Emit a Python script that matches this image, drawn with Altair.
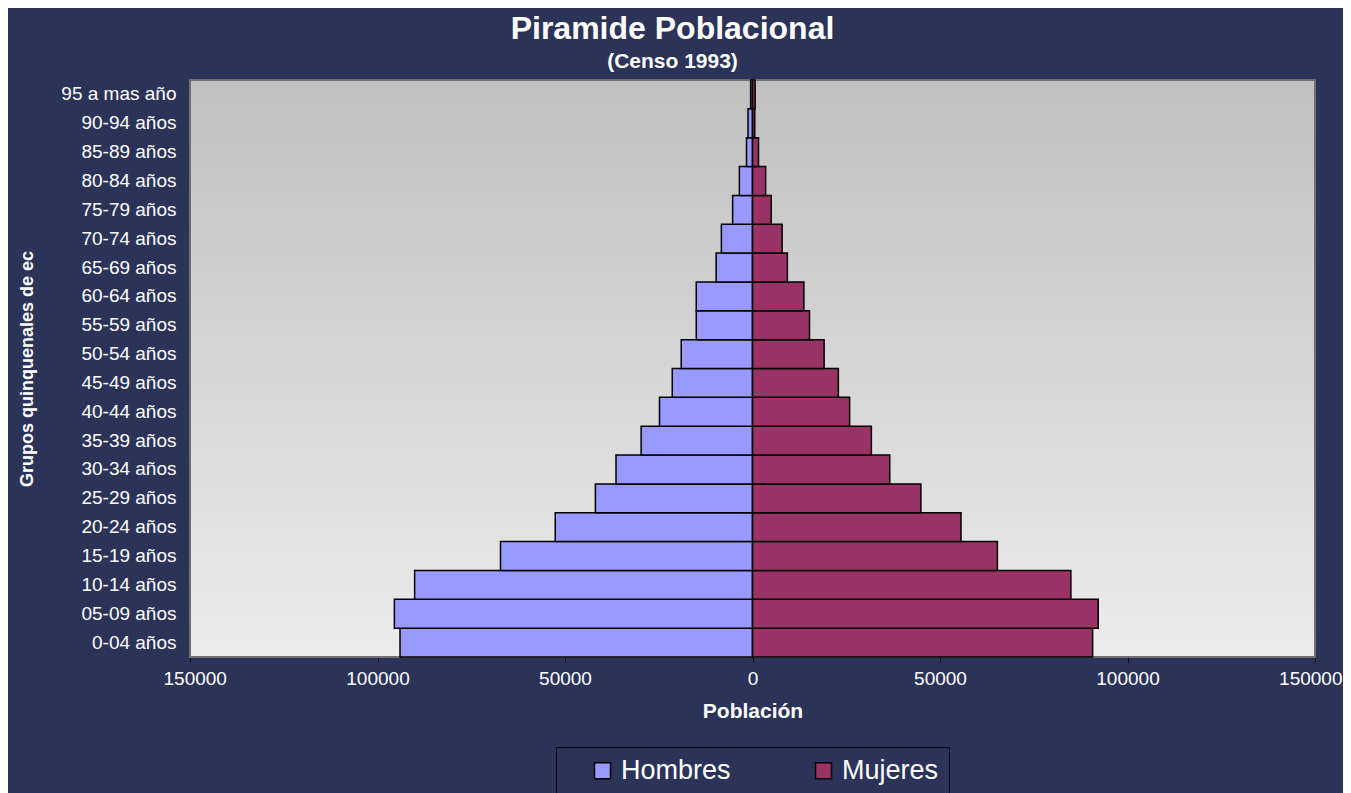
import altair as alt
import pandas as pd

ages = ["0-04 años", "05-09 años", "10-14 años", "15-19 años", "20-24 años",
        "25-29 años", "30-34 años", "35-39 años", "40-44 años", "45-49 años",
        "50-54 años", "55-59 años", "60-64 años", "65-69 años", "70-74 años",
        "75-79 años", "80-84 años", "85-89 años", "90-94 años", "95 a mas año"]
hombres = [94000, 95500, 90100, 67200, 52600, 41900, 36400, 29700, 24800, 21400,
           19000, 15000, 15000, 9700, 8300, 5300, 3500, 1600, 1200, 500]
mujeres = [90700, 92200, 84900, 65300, 55600, 44900, 36600, 31700, 25900, 22900,
           19100, 15200, 13700, 9300, 7900, 5000, 3500, 1600, 600, 700]
series = ["Hombres", "Mujeres"]
colors = ["#9999FF", "#993366"]
x_ticks = [-150000, -100000, -50000, 0, 50000, 100000, 150000]

rows = []
for a, h, m in zip(ages, hombres, mujeres):
    rows.append({"edad": a, "sexo": "Hombres", "valor": -h})
    rows.append({"edad": a, "sexo": "Mujeres", "valor": m})
df = pd.DataFrame(rows)

FONT = "Liberation Sans"
W, H = 1125, 577

xscale = alt.Scale(domain=[x_ticks[0], x_ticks[-1]], nice=False)

bg = alt.Chart(pd.DataFrame({"k": [0]})).mark_rect(
    fill=alt.LinearGradient(
        gradient="linear",
        stops=[alt.GradientStop(color="#C0C0C0", offset=0),
               alt.GradientStop(color="#ECECEC", offset=1)],
        x1=0, x2=0, y1=0, y2=1),
    stroke="#707070", strokeWidth=2,
).encode(
    x=alt.datum(x_ticks[0], scale=xscale),
    x2=alt.datum(x_ticks[-1]),
)

bars = alt.Chart(df).mark_bar(stroke="black", strokeWidth=1.5).encode(
    x=alt.X("valor:Q", scale=xscale,
            axis=alt.Axis(values=x_ticks, labelExpr="format(abs(datum.value), 'd')",
                          title="Población", grid=True, gridColor="black", gridWidth=1,
                          domainColor="black", tickColor="black", tickSize=5,
                          labelFlush=True, labelFlushOffset=27,
                          labelColor="white", labelFontSize=19, labelFont=FONT,
                          labelPadding=7, titleColor="white", titleFont=FONT,
                          titleFontSize=21, titleFontWeight="bold", titlePadding=12)),
    y=alt.Y("edad:N", sort=list(reversed(ages)),
            scale=alt.Scale(paddingInner=0, paddingOuter=0),
            axis=alt.Axis(title="Grupos quinquenales de ec", ticks=False, domain=False,
                          labelColor="white", labelFontSize=19, labelFont=FONT,
                          labelPadding=14, titleColor="white", titleFont=FONT,
                          titleFontSize=18, titleFontWeight="bold", titlePadding=24)),
    color=alt.Color("sexo:N", scale=alt.Scale(domain=series, range=colors),
                    legend=alt.Legend(orient="none", legendX=366, legendY=667,
                                      direction="horizontal", title=None,
                                      labelColor="white", labelFontSize=27, labelFont=FONT,
                                      symbolType="square", symbolSize=256,
                                      symbolStrokeColor="black", symbolStrokeWidth=1.5,
                                      symbolOffset=23,
                                      strokeColor="black", padding=10,
                                      columnPadding=56, labelOffset=5)),
)

chart = alt.layer(bg, bars).properties(
    width=W, height=H,
    autosize=alt.AutoSizeParams(type="none"),
    padding={"left": 182, "top": 72, "right": 28, "bottom": 136},
    title=alt.TitleParams(text="Piramide Poblacional", subtitle="(Censo 1993)",
                          color="white", subtitleColor="white", font=FONT,
                          subtitleFont=FONT, fontSize=32, subtitleFontSize=21,
                          fontWeight="bold", subtitleFontWeight="bold",
                          anchor="middle", dx=-80, offset=6, subtitlePadding=5),
).configure(background="#2C3359").configure_view(strokeWidth=0)

chart.save("out.html", embed_options={"renderer": "svg", "actions": False})
